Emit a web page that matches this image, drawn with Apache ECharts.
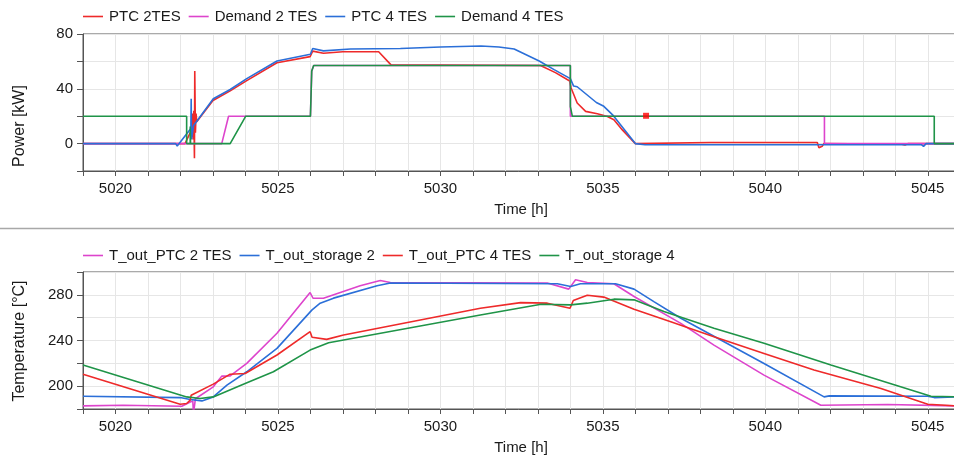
<!DOCTYPE html>
<html>
<head>
<meta charset="utf-8">
<script src="https://cdn.jsdelivr.net/npm/echarts@6/dist/echarts.min.js"></script>
<style>
html,body{margin:0;padding:0;background:#fff;}
#chart{width:954px;height:461px;}
</style>
</head>
<body>
<div id="chart"></div>
<script>
// ---------- Top chart: Power [kW] ----------
const ptc2tes = [[5019,0],[5022.14,0],[5022.3,8],[5022.35,5],[5022.37,22],[5022.39,3],[5022.41,24],[5022.43,-10.7],[5022.44,53],[5022.46,8],[5022.48,22],[5022.5,16],[5023.0,31.5],[5023.53,38.5],[5024.04,46],[5024.97,59],[5025.99,63.5],[5026.07,67.5],[5026.4,66],[5027.0,67],[5028.1,67],[5028.48,57.5],[5033.08,57],[5033.54,51.8],[5033.98,45.7],[5034.02,40.8],[5034.06,41.9],[5034.21,29.6],[5034.47,23.5],[5034.83,21.8],[5035.14,19.8],[5035.34,17.4],[5035.6,10],[5036.0,0],[5038.3,0.8],[5041.6,0.8],[5041.65,-3],[5041.75,-2],[5041.8,0],[5044.2,-0.5],[5044.3,-1],[5044.4,0],[5045.9,0]];
const demand2tes = [[5019,0],[5023.27,0],[5023.48,20],[5026.0,20],[5026.04,53],[5026.1,57],[5034.0,57],[5034.0,20],[5041.82,20],[5041.82,0],[5045.9,0]];
const ptc4tes = [[5019,0],[5021.85,0],[5021.9,-1.7],[5022.32,11],[5022.33,32.7],[5022.34,3],[5022.4,13],[5023.01,32.7],[5023.53,39.5],[5024.04,47.4],[5024.97,60.3],[5026.0,65.2],[5026.07,69.4],[5026.4,67.7],[5027.23,69],[5028.77,69.4],[5030.0,70.5],[5031.25,71.2],[5031.8,70.5],[5032.27,69],[5033.04,60.3],[5033.5,54],[5034.0,47.4],[5034.1,42],[5034.21,41.5],[5034.8,30],[5035.03,27.2],[5035.3,21],[5036.0,0],[5036.3,-0.8],[5041.8,-0.8],[5044.8,-0.8],[5044.87,-2],[5044.95,0],[5045.9,0]];
const demand4tes = [[5019,20],[5022.19,20],[5022.19,0],[5022.3,0],[5022.3,12.5],[5022.31,0],[5023.53,0],[5024.01,20],[5026.0,20],[5026.04,53],[5026.1,57],[5034.0,57],[5034.0,27],[5034.06,20],[5045.2,20],[5045.2,0],[5045.9,0]];
const ptc2tesMarker = [[5036.33,20.3]];

// ---------- Bottom chart: Temperature [°C] ----------
const tOutPtc2 = [[5019,182.7],[5020.24,183.3],[5022.04,182.4],[5022.3,186.2],[5022.38,187],[5022.4,176],[5022.45,176],[5022.46,189],[5022.5,190.6],[5023.01,199.4],[5023.27,208.8],[5023.53,209],[5024.04,220],[5024.97,246.3],[5025.99,282],[5026.08,277],[5026.4,277],[5027.53,288],[5028.15,292.6],[5028.46,290.8],[5033.29,290.3],[5033.95,285],[5034.16,293.2],[5034.52,290.8],[5035.34,289.7],[5035.96,278.5],[5037.4,255],[5038.42,236],[5039.96,209.7],[5041.71,183.3],[5043.77,184],[5045.9,182.7]];
const tOutStorage2 = [[5019,191.2],[5021.99,190],[5022.3,188.3],[5022.66,187.1],[5023.01,190.6],[5023.43,200.9],[5024.04,212.6],[5024.97,233.1],[5026.05,266.8],[5026.3,272.7],[5026.71,277.1],[5028.05,288],[5028.46,290.3],[5033.6,289.7],[5034.01,287.3],[5034.31,289.7],[5035.39,289.7],[5035.96,285],[5036.57,274.1],[5037.4,259.5],[5039.96,219.9],[5041.81,190.6],[5041.97,191.5],[5045.0,191.2],[5045.2,190],[5045.9,190.6]];
const tOutPtc4 = [[5019,210.5],[5021.99,184.2],[5022.19,184.8],[5022.3,187.7],[5022.33,192.1],[5023.01,201.8],[5023.53,210.5],[5023.99,211.1],[5024.97,227.3],[5025.99,247.7],[5026.05,242.8],[5026.5,241],[5027.02,244.8],[5031.23,268.3],[5032.47,273.2],[5033.29,272.7],[5033.99,268.3],[5034.09,275],[5034.52,279.7],[5035.03,278],[5035.96,267.4],[5037.09,256.5],[5038.42,243.3],[5039.96,228.7],[5041.5,214.1],[5043.56,198],[5045.0,184.2],[5045.9,182.7]];
const tOutStorage4 = [[5019,218.5],[5022.19,190.6],[5022.6,189.2],[5023.01,190.6],[5023.99,202.4],[5024.86,212.6],[5025.99,231.6],[5026.56,238.1],[5031.23,262.4],[5033.1,271.8],[5034.01,271.2],[5034.52,272.7],[5035.34,276.2],[5035.96,275.6],[5036.88,265.3],[5038.42,250.7],[5039.96,237.5],[5042.02,218.5],[5045.1,191.2],[5045.9,190.6]];

const topNames = ['PTC 2TES','Demand 2 TES','PTC 4 TES','Demand 4 TES'];
const bottomNames = ['T_out_PTC 2 TES','T_out_storage 2','T_out_PTC 4 TES','T_out_storage 4'];

const RED = '#ee2a2a', MAG = '#dd44cc', BLUE = '#2b6fd8', GREEN = '#1f9448';
const FONT = 'Liberation Sans, Arial, sans-serif';
const TXT = '#1a1a1a';
const AX = '#555';
const GRIDC = '#e6e6e6';

function xAxisCfg(gridIndex) {
  return {
    type: 'value', gridIndex, min: 5019, max: 5045.9, interval: 1,
    axisLine: { show: true, onZero: false, lineStyle: { color: AX, width: 1 } },
    axisTick: { show: true, length: 5, lineStyle: { color: AX } },
    axisLabel: { color: TXT, fontSize: 15, fontFamily: FONT, margin: 10,
      showMinLabel: true, showMaxLabel: false,
      formatter: v => (Math.abs(v % 5) < 1e-6 ? String(v) : '') },
    splitLine: { show: true, lineStyle: { color: GRIDC, width: 1 } }
  };
}
function yAxisCfg(gridIndex, min, max) {
  return {
    type: 'value', gridIndex, min, max, interval: 20,
    axisLine: { show: true, lineStyle: { color: AX, width: 1 } },
    axisTick: { show: true, length: 6, lineStyle: { color: AX } },
    axisLabel: { color: TXT, fontSize: 15, fontFamily: FONT, margin: 10,
      formatter: v => (v % 40 === 0 ? String(v) : '') },
    splitLine: { show: true, lineStyle: { color: GRIDC, width: 1 } }
  };
}
function line(name, data, color, xi) {
  return { name, type: 'line', data, xAxisIndex: xi, yAxisIndex: xi,
    symbol: 'none', showSymbol: false, animation: false,
    lineStyle: { color, width: 1.6 }, itemStyle: { color } };
}
function legendCfg(names, top) {
  return { data: names, left: 83, top, padding: 0, icon: 'rect', itemWidth: 20, itemHeight: 1.6, itemGap: 8,
    textStyle: { fontSize: 15, fontFamily: FONT, color: TXT, padding: [0, 0, 0, 1] } };
}

const chart = echarts.init(document.getElementById('chart'));
chart.setOption({
  animation: false,
  backgroundColor: '#fff',
  grid: [
    { left: 83, top: 34, right: -3, height: 137, show: true, borderColor: AX, borderWidth: 1, outerBoundsMode: 'none', containLabel: false },
    { left: 83, top: 272, right: -3, height: 137, show: true, borderColor: AX, borderWidth: 1, outerBoundsMode: 'none', containLabel: false }
  ],
  legend: [legendCfg(topNames, 9), legendCfg(bottomNames, 248)],
  xAxis: [xAxisCfg(0), xAxisCfg(1)],
  yAxis: [yAxisCfg(0, -20, 80), yAxisCfg(1, 180, 300)],
  series: [
    line(topNames[0], ptc2tes, RED, 0),
    line(topNames[1], demand2tes, MAG, 0),
    line(topNames[2], ptc4tes, BLUE, 0),
    line(topNames[3], demand4tes, GREEN, 0),
    { name: 'PTC 2TES marker', type: 'scatter', data: ptc2tesMarker, xAxisIndex: 0, yAxisIndex: 0,
      symbol: 'rect', symbolSize: 6, itemStyle: { color: '#ff0000' }, z: 5 },
    line(bottomNames[0], tOutPtc2, MAG, 1),
    line(bottomNames[1], tOutStorage2, BLUE, 1),
    line(bottomNames[2], tOutPtc4, RED, 1),
    line(bottomNames[3], tOutStorage4, GREEN, 1)
  ],
  graphic: [
    { type: 'line', shape: { x1: 0, y1: 228.5, x2: 954, y2: 228.5 }, style: { stroke: '#a8a8a8', lineWidth: 1.5 } },
    { type: 'text', x: 20, y: 126, rotation: Math.PI / 2,
      style: { text: 'Power [kW]', fontSize: 16, fontFamily: FONT, fill: TXT, textAlign: 'center', textVerticalAlign: 'middle' } },
    { type: 'text', x: 20, y: 341, rotation: Math.PI / 2,
      style: { text: 'Temperature [°C]', fontSize: 16, fontFamily: FONT, fill: TXT, textAlign: 'center', textVerticalAlign: 'middle' } },
    { type: 'text', x: 521, y: 210,
      style: { text: 'Time [h]', fontSize: 15, fontFamily: FONT, fill: TXT, textAlign: 'center', textVerticalAlign: 'middle' } },
    { type: 'text', x: 521, y: 448,
      style: { text: 'Time [h]', fontSize: 15, fontFamily: FONT, fill: TXT, textAlign: 'center', textVerticalAlign: 'middle' } }
  ]
});
</script>
</body>
</html>
